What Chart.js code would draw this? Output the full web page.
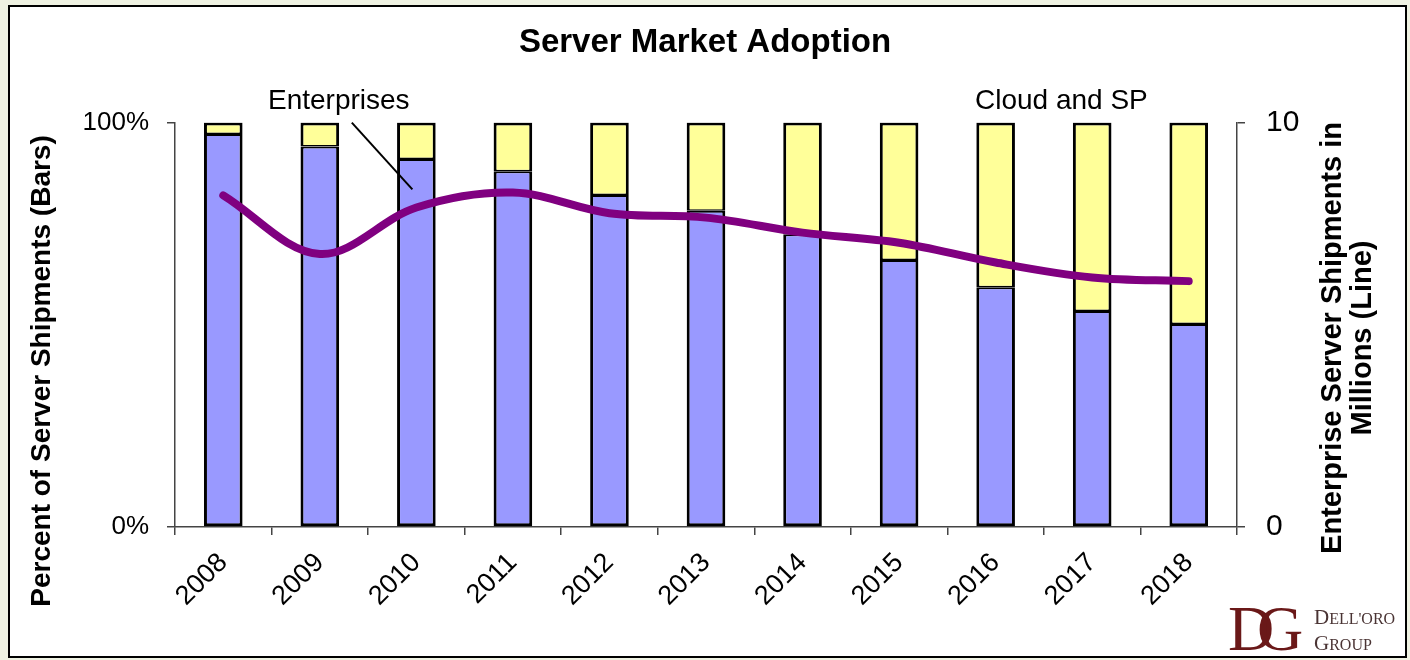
<!DOCTYPE html>
<html lang="en">
<head>
    <meta charset="UTF-8">
    <title>Server Market Adoption</title>
    <script src="https://cdn.jsdelivr.net/npm/chart.js"></script>
    <style>
        html, body { margin: 0; padding: 0; background: #eff2e2; }
        #wrap { position: relative; width: 1410px; height: 660px; }
    </style>
</head>
<body>
    <div id="wrap"><canvas id="chart" width="1410" height="660"></canvas></div>

    <script>
        // Data
        const years = ['2008', '2009', '2010', '2011', '2012', '2013', '2014', '2015', '2016', '2017', '2018'];
        const enterpriseShare = [97.2, 94.1, 91.0, 88.0, 82.1, 78.2, 72.4, 66.0, 59.3, 53.4, 50.2];
        const cloudShare = [2.8, 5.9, 9.0, 12.0, 17.9, 21.8, 27.6, 34.0, 40.7, 46.6, 49.8];
        const enterpriseUnits = [8.2, 6.75, 7.9, 8.27, 7.76, 7.65, 7.28, 7.03, 6.54, 6.17, 6.08];
        const percentTicks = [0, 100];
        const unitTicks = [0, 10];

        const FONT = 'Arial, "Liberation Sans", sans-serif';
        const SERIF = '"Liberation Serif", "DejaVu Serif", serif';

        // Frame, axis titles, callouts and logo
        const decor = {
            id: 'decor',
            beforeDraw(chart) {
                const ctx = chart.ctx;
                ctx.save();
                ctx.fillStyle = '#eff2e2';
                ctx.fillRect(0, 0, chart.width, chart.height);
                ctx.fillStyle = '#ffffff';
                ctx.fillRect(9, 6, 1397, 651);
                ctx.strokeStyle = '#000';
                ctx.lineWidth = 2;
                ctx.strokeRect(9, 6, 1397, 651);
                ctx.restore();
            },
            afterDraw(chart) {
                const ctx = chart.ctx;
                const x = chart.scales.x;
                const y = chart.scales.y;
                ctx.save();
                ctx.fillStyle = '#000';

                // left axis title
                ctx.save();
                ctx.translate(42, 371);
                ctx.rotate(-Math.PI / 2);
                ctx.font = 'bold 28px ' + FONT;
                ctx.textAlign = 'center';
                ctx.textBaseline = 'middle';
                ctx.fillText('Percent of Server Shipments (Bars)', 0, 0);
                ctx.restore();

                // right axis title (two lines)
                ctx.save();
                ctx.translate(1333, 338);
                ctx.rotate(-Math.PI / 2);
                ctx.font = 'bold 29px ' + FONT;
                ctx.textAlign = 'center';
                ctx.textBaseline = 'middle';
                ctx.fillText('Enterprise Server Shipments in', 0, 0);
                ctx.fillText('Millions (Line)', 0, 30);
                ctx.restore();

                // callouts
                ctx.font = '28px ' + FONT;
                ctx.textAlign = 'left';
                ctx.textBaseline = 'middle';
                ctx.fillText('Enterprises', 268, 101);
                ctx.fillText('Cloud and SP', 975, 101);

                ctx.strokeStyle = '#000';
                ctx.lineWidth = 2;
                ctx.beginPath();
                ctx.moveTo(x.getPixelForValue(1) + 32, chart.chartArea.top);
                ctx.lineTo(x.getPixelForValue(2) - 4, y.getPixelForValue(83.5));
                ctx.stroke();

                // logo
                ctx.fillStyle = '#6a1818';
                ctx.font = '64px ' + SERIF;
                ctx.textBaseline = 'alphabetic';
                ctx.fillText('D', 1228, 650);
                ctx.fillText('G', 1257, 650);
                ctx.fillStyle = '#4a3434';
                const small = (first, rest, px, py) => {
                    ctx.font = '21px ' + SERIF;
                    ctx.fillText(first, px, py);
                    const w = ctx.measureText(first).width;
                    ctx.font = '16px ' + SERIF;
                    ctx.fillText(rest, px + w, py);
                };
                small('D', "ELL'ORO", 1314, 624);
                small('G', 'ROUP', 1314, 650);
                ctx.restore();
            }
        };

        const ctx = document.getElementById('chart').getContext('2d');
        new Chart(ctx, {
            data: {
                labels: years,
                datasets: [
                    {
                        type: 'line',
                        label: 'Enterprise Server Shipments',
                        data: enterpriseUnits,
                        yAxisID: 'y2',
                        borderColor: '#800080',
                        borderWidth: 8,
                        borderCapStyle: 'round',
                        tension: 0.35,
                        pointRadius: 0,
                        fill: false,
                        order: 0
                    },
                    {
                        type: 'bar',
                        label: 'Enterprises',
                        data: enterpriseShare,
                        yAxisID: 'y',
                        backgroundColor: '#9999ff',
                        borderColor: '#000',
                        borderWidth: { left: 3, right: 3, bottom: 3, top: 2 },
                        borderSkipped: false,
                        categoryPercentage: 1,
                        barPercentage: 0.4,
                        order: 1
                    },
                    {
                        type: 'bar',
                        label: 'Cloud and SP',
                        data: cloudShare,
                        yAxisID: 'y',
                        backgroundColor: '#ffff99',
                        borderColor: '#000',
                        borderWidth: { left: 3, right: 3, top: 3, bottom: 1.5 },
                        borderSkipped: false,
                        categoryPercentage: 1,
                        barPercentage: 0.4,
                        order: 1
                    }
                ]
            },
            options: {
                responsive: false,
                animation: false,
                layout: { padding: 0 },
                plugins: {
                    legend: { display: false },
                    tooltip: { enabled: false },
                    title: {
                        display: true,
                        text: 'Server Market Adoption',
                        color: '#000',
                        font: { family: FONT, size: 33, weight: 'bold' },
                        padding: { top: 23, bottom: 60 }
                    }
                },
                scales: {
                    x: {
                        stacked: true,
                        offset: true,
                        afterFit(scale) { scale.height = 133; },
                        grid: {
                            offset: true,
                            drawOnChartArea: false,
                            color: '#444',
                            lineWidth: 1.5,
                            tickLength: 8
                        },
                        border: { color: '#444', width: 1.5 },
                        ticks: {
                            color: '#000',
                            font: { family: FONT, size: 27 },
                            maxRotation: 45,
                            minRotation: 45,
                            padding: 12
                        }
                    },
                    y: {
                        stacked: true,
                        position: 'left',
                        min: percentTicks[0],
                        max: percentTicks[1],
                        afterFit(scale) { scale.width = 175; },
                        afterBuildTicks(scale) { scale.ticks = percentTicks.map(v => ({ value: v })); },
                        grid: {
                            drawOnChartArea: false,
                            color: '#444',
                            lineWidth: 1.5,
                            tickLength: 8
                        },
                        border: { color: '#444', width: 1.5 },
                        ticks: {
                            color: '#000',
                            font: { family: FONT, size: 26 },
                            padding: 18,
                            callback: v => v + '%'
                        }
                    },
                    y2: {
                        position: 'right',
                        min: unitTicks[0],
                        max: unitTicks[1],
                        afterFit(scale) { scale.width = 173; },
                        afterBuildTicks(scale) { scale.ticks = unitTicks.map(v => ({ value: v })); },
                        grid: {
                            drawOnChartArea: false,
                            color: '#444',
                            lineWidth: 1.5,
                            tickLength: 8
                        },
                        border: { color: '#444', width: 1.5 },
                        ticks: {
                            color: '#000',
                            font: { family: FONT, size: 30 },
                            padding: 21
                        }
                    }
                }
            },
            plugins: [decor]
        });
    </script>
</body>
</html>
